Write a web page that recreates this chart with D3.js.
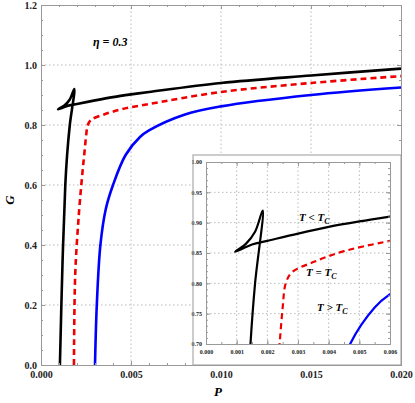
<!DOCTYPE html>
<html><head><meta charset="utf-8">
<script src="https://cdn.jsdelivr.net/npm/d3@7"></script>
<style>body{margin:0;background:#fff}</style>
</head><body><div id="chart"></div>
<script>
// curves: [P, G]
const blackP = [0.00105,0.0012,0.00135,0.00145,0.0016,0.00185,0.0016,0.0013,0.00095,0.0015,0.002,0.003,0.004,0.005,0.006,0.010,0.015,0.020];
const blackG = [0,0.35,0.6,0.70,0.80,0.92,0.885,0.865,0.852,0.864,0.870,0.882,0.893,0.902,0.910,0.940,0.965,0.988];
const redP = [0.00183,0.0019,0.0021,0.0023,0.0024,0.0025,0.0026,0.0028,0.0035,0.0045,0.006,0.010,0.015,0.020];
const redG = [0,0.3,0.5,0.64,0.70,0.76,0.80,0.818,0.835,0.853,0.870,0.910,0.940,0.963];
const blueP = [0.003,0.0031,0.0033,0.0036,0.0040,0.0047,0.0055,0.006,0.008,0.010,0.015,0.020];
const blueG = [0,0.2,0.4,0.52,0.6,0.70,0.76,0.782,0.835,0.862,0.90,0.925];
const mainXTicks = [0, 0.005, 0.010, 0.015, 0.020];
const mainYTicks = [0, 0.2, 0.4, 0.6, 0.8, 1.0, 1.2];
const insetXTicks = [0, 0.001, 0.002, 0.003, 0.004, 0.005, 0.006];
const insetYTicks = [0.70, 0.75, 0.80, 0.85, 0.90, 0.95, 1.00];

const series = [
  {p: blackP, g: blackG, color: '#000', dash: null},
  {p: redP, g: redG, color: '#e00', dash: '6,4'},
  {p: blueP, g: blueG, color: '#00f', dash: null}
];

const svg = d3.select('#chart').append('svg').attr('width', 415).attr('height', 403)
  .style('font-family', '"Liberation Serif", serif');

function panel(x0, x1, y0, y1, xt, yt, xMinor, yMinor, fs, fmtX, fmtY, sw, clipId) {
  const g = svg.append('g');
  const xs = d3.scaleLinear().domain([xt[0], xt[xt.length-1]]).range([x0, x1]);
  const ys = d3.scaleLinear().domain([yt[0], yt[yt.length-1]]).range([y0, y1]);
  // grid
  g.selectAll('.gx').data(xt.slice(1, -1)).enter().append('line')
    .attr('x1', xs).attr('x2', xs).attr('y1', y0).attr('y2', y1)
    .attr('stroke', '#bbb').attr('stroke-dasharray', '1.5,2.5');
  g.selectAll('.gy').data(yt.slice(1, -1)).enter().append('line')
    .attr('y1', ys).attr('y2', ys).attr('x1', x0).attr('x2', x1)
    .attr('stroke', '#bbb').attr('stroke-dasharray', '1.5,2.5');
  svg.append('clipPath').attr('id', clipId).append('rect')
    .attr('x', x0).attr('y', y1).attr('width', x1 - x0).attr('height', y0 - y1);
  const line = d3.line().curve(d3.curveCatmullRom.alpha(0.5)).x(d => xs(d[0])).y(d => ys(d[1]));
  series.forEach(s => {
    g.append('path').datum(s.p.map((p, i) => [p, s.g[i]]))
      .attr('d', line).attr('fill', 'none').attr('stroke', s.color)
      .attr('stroke-width', sw).attr('stroke-dasharray', s.dash)
      .attr('clip-path', `url(#${clipId})`);
  });
  // axes with inward ticks
  const ax = (axis, t) => g.append('g').attr('transform', t).call(axis)
    .call(a => a.select('.domain').attr('stroke', '#999'))
    .call(a => a.selectAll('line').attr('stroke', '#999'));
  const xMin = d3.range(xt[0], xt[xt.length-1] + 1e-9, xMinor);
  const yMin = d3.range(yt[0], yt[yt.length-1] + 1e-9, yMinor);
  ax(d3.axisBottom(xs).tickValues(xMin).tickSize(-2).tickFormat(''), `translate(0,${y0})`);
  ax(d3.axisTop(xs).tickValues(xMin).tickSize(-2).tickFormat(''), `translate(0,${y1})`);
  ax(d3.axisLeft(ys).tickValues(yMin).tickSize(-2).tickFormat(''), `translate(${x0},0)`);
  ax(d3.axisRight(ys).tickValues(yMin).tickSize(-2).tickFormat(''), `translate(${x1},0)`);
  ax(d3.axisBottom(xs).tickValues(xt).tickSize(-4).tickPadding(6).tickFormat(fmtX), `translate(0,${y0})`)
    .selectAll('text').attr('font-size', fs).attr('font-weight', 'bold').attr('fill', '#222').style('font-family', '"Liberation Serif", serif');
  ax(d3.axisLeft(ys).tickValues(yt).tickSize(-4).tickPadding(4).tickFormat(fmtY), `translate(${x0},0)`)
    .selectAll('text').attr('font-size', fs).attr('font-weight', 'bold').attr('fill', '#222').style('font-family', '"Liberation Serif", serif');
  ax(d3.axisTop(xs).tickValues(xt).tickSize(-4).tickFormat(''), `translate(0,${y1})`);
  ax(d3.axisRight(ys).tickValues(yt).tickSize(-4).tickFormat(''), `translate(${x1},0)`);
}

panel(41, 401, 365, 5, mainXTicks, mainYTicks, 0.001, 0.05, 10, d3.format('.3f'), d3.format('.1f'), 2.6, 'c1');

// inset background
svg.append('rect').attr('x', 193).attr('y', 155).attr('width', 208).attr('height', 210)
  .attr('fill', '#fff');
panel(206, 390, 344, 162, insetXTicks, insetYTicks, 0.0005, 0.01, 6, d3.format('.3f'), d3.format('.2f'), 2.2, 'c2');
svg.append('rect').attr('x', 193).attr('y', 155).attr('width', 208).attr('height', 210)
  .attr('fill', 'none').attr('stroke', '#999');

const txt = (x, y, s, fs) => svg.append('text').attr('x', x).attr('y', y)
  .attr('font-size', fs).attr('font-weight', 'bold').attr('font-style', 'italic').html(s);
txt(93, 46, 'η = 0.3', 12);
txt(14, 200, 'G', 13).attr('transform', 'rotate(-90,14,200)').attr('text-anchor', 'middle');
txt(218, 396, 'P', 13).attr('text-anchor', 'middle');
txt(299, 221, 'T &lt; T<tspan font-size="8" dy="3">C</tspan>', 11);
txt(306, 276, 'T = T<tspan font-size="8" dy="3">C</tspan>', 11);
txt(317, 311, 'T &gt; T<tspan font-size="8" dy="3">C</tspan>', 11);
</script></body></html>
